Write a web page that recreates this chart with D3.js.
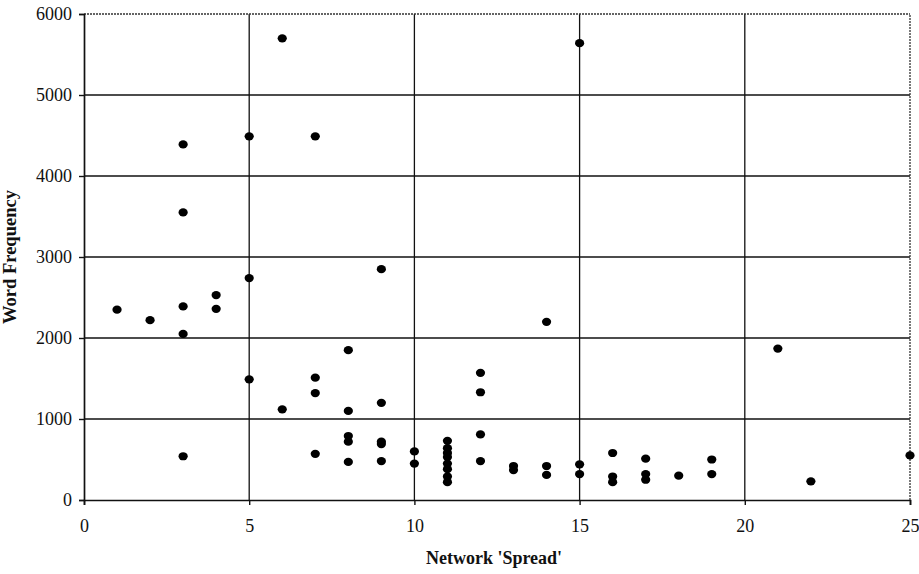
<!DOCTYPE html>
<html>
<head>
<meta charset="utf-8">
<script src="https://cdn.jsdelivr.net/npm/d3@7"></script>
<style>
  body { margin: 0; background: #fff; }
  svg { display: block; }
  text { font-family: "Liberation Serif", "Times New Roman", serif; fill: #111; }
</style>
</head>
<body>
<svg id="chart" width="919" height="574"></svg>
<script>
// Network spread (x) against word frequency (y)
const spread = [
  1, 2, 3, 3, 3, 3, 3,
  4, 4,
  5, 5, 5,
  6, 6,
  7, 7, 7, 7,
  8, 8, 8, 8, 8,
  9, 9, 9, 9, 9,
  10, 10,
  11, 11, 11, 11, 11, 11, 11, 11,
  12, 12, 12, 12,
  13, 13,
  14, 14, 14,
  15, 15, 15,
  16, 16, 16,
  17, 17, 17,
  18,
  19, 19,
  21, 22, 25
];
const frequency = [
  2350, 2220, 4390, 3550, 2390, 2050, 540,
  2530, 2360,
  4490, 2740, 1490,
  5700, 1120,
  4490, 1510, 1320, 570,
  1850, 1100, 790, 720, 470,
  2850, 1200, 720, 690, 480,
  600, 450,
  730, 640, 580, 530, 450, 380, 290, 220,
  1570, 1330, 810, 480,
  420, 370,
  2200, 420, 310,
  5640, 440, 320,
  580, 290, 220,
  510, 320, 250,
  300,
  500, 320,
  1870, 230, 550
];
const xTicks = [0, 5, 10, 15, 20, 25];
const yTicks = [0, 1000, 2000, 3000, 4000, 5000, 6000];
const xTitle = "Network 'Spread'";
const yTitle = "Word Frequency";

const svg = d3.select("#chart");
const m = { left: 84, right: 9, top: 14, bottom: 74 };
const W = 919, H = 574;

const x = d3.scaleLinear().domain([0, 25]).range([m.left, W - m.right]);
const y = d3.scaleLinear().domain([0, 6000]).range([H - m.bottom, m.top]);

// grid
const grid = svg.append("g");
grid.selectAll("line.h").data(yTicks.slice(1, -1)).join("line")
  .attr("x1", x(0)).attr("x2", x(25))
  .attr("y1", d => y(d)).attr("y2", d => y(d))
  .attr("stroke", "#111").attr("stroke-width", 1.4);
grid.selectAll("line.v").data(xTicks.slice(1, -1)).join("line")
  .attr("y1", y(0)).attr("y2", y(6000))
  .attr("x1", d => x(d)).attr("x2", d => x(d))
  .attr("stroke", "#111").attr("stroke-width", 1.3);

// plot frame, top and right edges
svg.append("line").attr("x1", x(0)).attr("x2", x(25)).attr("y1", y(6000)).attr("y2", y(6000))
  .attr("stroke", "#333").attr("stroke-width", 1.3).attr("stroke-dasharray", "2,1");
svg.append("line").attr("x1", x(25)).attr("x2", x(25)).attr("y1", y(0)).attr("y2", y(6000))
  .attr("stroke", "#333").attr("stroke-width", 1.3).attr("stroke-dasharray", "2,1");

// axes
const xAxis = svg.append("g").attr("transform", `translate(0,${y(0)})`)
  .call(d3.axisBottom(x).tickValues(xTicks).tickSize(5).tickPadding(14).tickFormat(d3.format("d")));
const yAxis = svg.append("g").attr("transform", `translate(${x(0)},0)`)
  .call(d3.axisLeft(y).tickValues(yTicks).tickSize(5).tickPadding(7).tickFormat(d3.format("d")));
[xAxis, yAxis].forEach(a => {
  a.select(".domain").attr("stroke", "#111").attr("stroke-width", 1.7);
  a.selectAll(".tick line").attr("stroke", "#111").attr("stroke-width", 1.4);
  a.selectAll(".tick text").attr("font-size", 18).attr("font-family", "Liberation Serif, serif").attr("fill", "#111");
});

// points
svg.append("g").selectAll("ellipse").data(spread.map((s, i) => [s, frequency[i]])).join("ellipse")
  .attr("cx", d => x(d[0])).attr("cy", d => y(d[1]))
  .attr("rx", 4.6).attr("ry", 4.1)
  .attr("fill", "#000");

// axis titles
svg.append("text").attr("x", 494).attr("y", 564)
  .attr("text-anchor", "middle").attr("font-size", 18).attr("font-weight", "bold")
  .text(xTitle);
svg.append("text").attr("transform", `translate(16,${(y(0) + y(6000)) / 2}) rotate(-90)`)
  .attr("text-anchor", "middle").attr("font-size", 18.5).attr("font-weight", "bold")
  .text(yTitle);
</script>
</body>
</html>
